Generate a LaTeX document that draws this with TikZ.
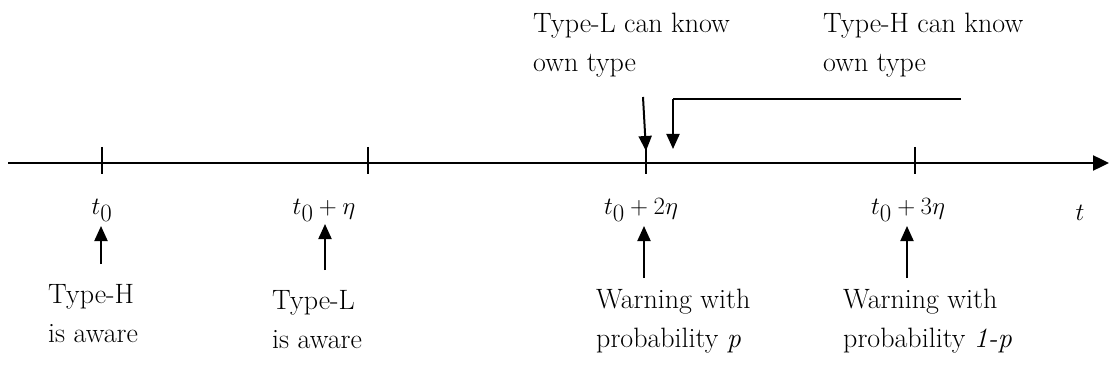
\documentclass[tikz,border=0pt]{standalone}
\usetikzlibrary{arrows.meta}
\begin{document}
\begin{tikzpicture}[x=1pt,y=-1pt,
  lbl/.style={inner sep=0pt,anchor=base west,align=left,font=\fontsize{28}{39}\selectfont},
  tlbl/.style={inner sep=0pt,anchor=base,font=\fontsize{33}{38}\selectfont},
  axisline/.style={line width=2.4pt,-{Triangle[length=16pt,width=15pt]}},
  tickline/.style={line width=1.4pt},
  arr/.style={line width=2pt,-{Triangle[length=15pt,width=13pt]}},
  plain/.style={line width=2pt}]
\useasboundingbox (0,0) rectangle (1110,382);
% axis
\coordinate (a0) at (8,163);
\coordinate (a1) at (1109,163);
\draw[axisline] (a0) -- (a1);
% ticks
\foreach \n/\x in {k0/102,k1/368,k2/646,k3/915}{
  \coordinate (\n top) at (\x,147);
  \coordinate (\n bot) at (\x,174);
  \draw[tickline] (\n top) -- (\n bot);
}
% tick labels
\node[tlbl] (l0) at (102,214) {$t_0$};
\node[tlbl] (l1) at (324,214) {$t_0+\eta$};
\node[tlbl] (l2) at (641,214) {$t_0+2\eta$};
\node[tlbl] (l3) at (908,214) {$t_0+3\eta$};
\node[tlbl] (lt) at (1080,220) {$t$};
% bottom texts (base = last line)
\node[lbl] (b0) at (48,342) {Type-H\\is aware};
\node[lbl] (b1) at (272,348) {Type-L\\is aware};
\node[lbl] (b2) at (596,347) {Warning with\\probability \textit{p}};
\node[lbl] (b3) at (843,347) {Warning with\\probability \textit{1-p}};
% up arrows
\coordinate (u0s) at (101,264); \coordinate (u0e) at (101,226);
\coordinate (u1s) at (325,270); \coordinate (u1e) at (325,224);
\coordinate (u2s) at (644,278); \coordinate (u2e) at (644,226);
\coordinate (u3s) at (907,278); \coordinate (u3e) at (907,226);
\draw[arr] (u0s) -- (u0e);
\draw[arr] (u1s) -- (u1e);
\draw[arr] (u2s) -- (u2e);
\draw[arr] (u3s) -- (u3e);
% top texts
\node[lbl] (tL) at (533,72) {Type-L can know\\own type};
\node[lbl] (tH) at (823,72) {Type-H can know\\own type};
% down arrows
\coordinate (dLs) at (643,97); \coordinate (dLe) at (646,151);
\draw[arr] (dLs) -- (dLe);
\coordinate (dHs) at (961,99); \coordinate (dHc) at (673,99); \coordinate (dHe) at (673,149);
\draw[plain] (dHs) -- (dHc);
\draw[arr] (dHc) -- (dHe);
\end{tikzpicture}
\end{document}
